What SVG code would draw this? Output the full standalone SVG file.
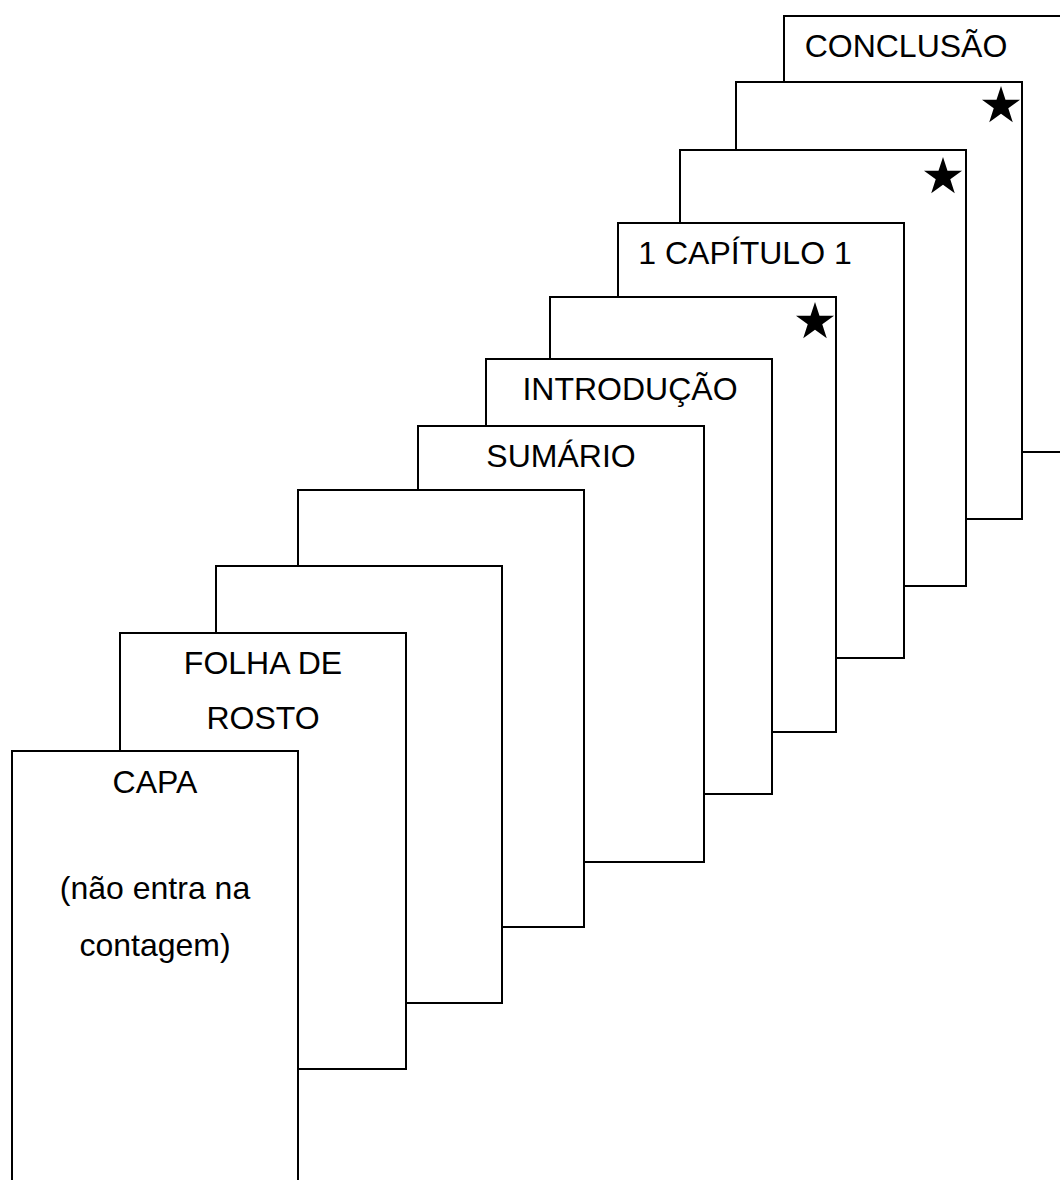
<svg xmlns="http://www.w3.org/2000/svg" xmlns:xlink="http://www.w3.org/1999/xlink" width="1060" height="1180" viewBox="0 0 1060 1180">
<style>
.page{fill:#fff;stroke:#000;stroke-width:2}
.lbl{font-family:"Liberation Sans",Arial,sans-serif;font-size:32px;fill:#000;text-anchor:middle}
.star{fill:#000}
</style>
<defs>
<path id="star" class="star" d="M0,-20 L4.49,-6.18 L19.02,-6.18 L7.27,2.36 L11.76,16.18 L0,7.64 L-11.76,16.18 L-7.27,2.36 L-19.02,-6.18 L-4.49,-6.18 Z"/>
</defs>
<rect width="1060" height="1180" fill="#fff"/>
<g id="page-conclusao">
<rect class="page" x="784" y="16" width="286" height="436"/>
<text class="lbl" x="906" y="57">CONCLUSÃO</text>
</g>
<g id="page-10">
<rect class="page" x="736" y="82" width="286" height="437"/>
<use xlink:href="#star" href="#star" x="1001" y="106"/>
</g>
<g id="page-9">
<rect class="page" x="680" y="150" width="286" height="436"/>
<use xlink:href="#star" href="#star" x="943" y="177"/>
</g>
<g id="page-capitulo-1">
<rect class="page" x="618" y="223" width="286" height="435"/>
<text class="lbl" x="745" y="264">1 CAPÍTULO 1</text>
</g>
<g id="page-7">
<rect class="page" x="550" y="297" width="286" height="435"/>
<use xlink:href="#star" href="#star" x="815" y="322"/>
</g>
<g id="page-introducao">
<rect class="page" x="486" y="359" width="286" height="435"/>
<text class="lbl" x="630" y="400">INTRODUÇÃO</text>
</g>
<g id="page-sumario">
<rect class="page" x="418" y="426" width="286" height="436"/>
<text class="lbl" x="561" y="467">SUMÁRIO</text>
</g>
<g id="page-4">
<rect class="page" x="298" y="490" width="286" height="437"/>
</g>
<g id="page-3">
<rect class="page" x="216" y="566" width="286" height="437"/>
</g>
<g id="page-folha-de-rosto">
<rect class="page" x="120" y="633" width="286" height="436"/>
<text class="lbl" x="263" y="674">FOLHA DE</text>
<text class="lbl" x="263" y="729">ROSTO</text>
</g>
<g id="page-capa">
<rect class="page" x="12" y="751" width="286" height="436"/>
<text class="lbl" x="155" y="793">CAPA</text>
<text class="lbl" x="155" y="899">(não entra na</text>
<text class="lbl" x="155" y="956">contagem)</text>
</g>
</svg>
